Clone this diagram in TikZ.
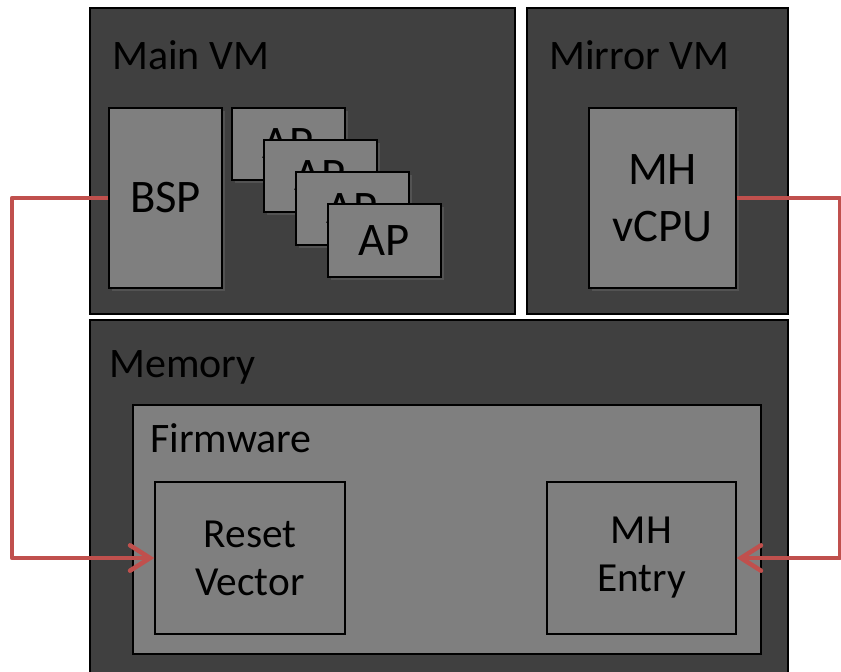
\documentclass[tikz,border=0pt]{standalone}
\usepackage{fontspec}
\setmainfont{Carlito}
\usetikzlibrary{arrows.meta,fit,shadows}
\definecolor{darkbox}{RGB}{64,64,64}
\definecolor{midbox}{RGB}{127,127,127}
\definecolor{linkred}{RGB}{192,80,77}
\begin{document}
\begin{tikzpicture}[x=0.75pt,y=-0.75pt,
  outerbox/.style={draw=black,line width=1.1pt,fill=darkbox,inner sep=0pt},
  fwbox/.style={draw=black,line width=1.1pt,fill=midbox,inner sep=0pt},
  innerbox/.style={draw=black,line width=1.1pt,fill=midbox,inner sep=0pt,
    drop shadow={opacity=0.3,shadow xshift=2pt,shadow yshift=-2pt}},
  title/.style={anchor=base west,inner sep=0pt,font=\fontsize{31.5}{36}\selectfont},
  bigtxt/.style={align=center,inner sep=0pt,anchor=center,font=\fontsize{35}{43}\selectfont},
  memtxt/.style={align=center,inner sep=0pt,anchor=center,font=\fontsize{31}{36}\selectfont},
  link/.style={draw=linkred,line width=3.4pt,line join=round,
    -{Straight Barb[length=15pt,width=19pt,line cap=round]}}
]
\useasboundingbox (0,0) rectangle (841,671);
\fill[white] (0,0) rectangle (841,671);

% outer boxes
\node[outerbox,fit={(90,8) (515,314)}] (mainvm) {};
\node[outerbox,fit={(527,8) (788,314)}] (mirrorvm) {};
\node[outerbox,fit={(90,320) (788,700)}] (memory) {};

\node[title] (mainlbl) at (112,69) {Main VM};
\node[title] (mirrorlbl) at (549,69) {Mirror VM};
\node[title] (memlbl) at (109,377) {Memory};

% Main VM contents
\node[innerbox,fit={(109,108) (222,288)}] (bsp) {};
\node[bigtxt] (bsptxt) at (bsp.center) {BSP};
\node[innerbox,fit={(232,108) (345,180)}] (ap1) {};
\node[bigtxt] (ap1txt) at (ap1.center) {AP};
\node[innerbox,fit={(264,140) (377,212)}] (ap2) {};
\node[bigtxt] (ap2txt) at (ap2.center) {AP};
\node[innerbox,fit={(296,172) (409,245)}] (ap3) {};
\node[bigtxt] (ap3txt) at (ap3.center) {AP};
\node[innerbox,fit={(328,204) (441,277)}] (ap4) {};
\node[bigtxt] (ap4txt) at (ap4.center) {AP};

% Mirror VM contents
\node[innerbox,fit={(589,108) (736,288)}] (mhvcpu) {};
\node[bigtxt] (mhvcputxt) at (mhvcpu.center) {MH\\vCPU};

% Memory contents
\node[fwbox,fit={(133,405) (761,654)}] (firmware) {};
\node[title] (fwlbl) at (150,452) {Firmware};
\node[innerbox,fit={(155,482) (345,634)}] (reset) {};
\node[memtxt] (resettxt) at (reset.center) {Reset\\Vector};
\node[innerbox,fit={(547,482) (736,634)}] (mhentry) {};
\node[memtxt] (mhentrytxt) at (mhentry.center) {MH\\Entry};

% connectors
\coordinate (lt) at (12,198);
\coordinate (lb) at (12,558);
\coordinate (rt) at (840,198);
\coordinate (rb) at (840,558);
\draw[link] (bsp.west) -- (lt) -- (lb) -- (reset.west);
\draw[link] (mhvcpu.east) -- (rt) -- (rb) -- (mhentry.east);
\end{tikzpicture}
\end{document}
